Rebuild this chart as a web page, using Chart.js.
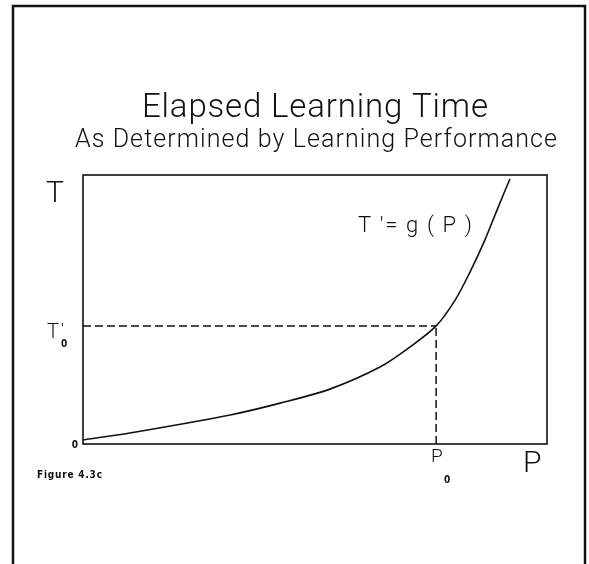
<!DOCTYPE html>
<html>
<head>
<meta charset="utf-8">
<script src="https://cdn.jsdelivr.net/npm/chart.js@4.4.0/dist/chart.umd.min.js"></script>
<style>
  html, body { margin: 0; padding: 0; background: #fff; }
  #wrap { width: 589px; height: 564px; position: relative; }
</style>
</head>
<body>
<div id="wrap"><canvas id="c" width="589" height="564"></canvas></div>
<script>
// ---- data (axis units 0..100) ----
const performance = [0, 10.1, 31.7, 42.5, 53.2, 64.0, 70.5, 76.1, 80.2, 83.4, 86.6, 89.4, 92.0];
const elapsedTime = [1.5, 4.1, 10.8, 15.2, 20.4, 28.6, 36.1, 43.9, 53.5, 63.9, 75.8, 87.7, 98.5];
const P0 = 76.1;
const T0 = 43.9;
const titleText = "Elapsed Learning Time";
const subtitleText = "As Determined by Learning Performance";
const curveLabel = "T '= g ( P )";
const figureLabel = "Figure 4.3c";

const curvePts = performance.map((p, i) => ({ x: p, y: elapsedTime[i] }));
const hDash = [{ x: 0, y: T0 }, { x: P0, y: T0 }];
const vDash = [{ x: P0, y: 0 }, { x: P0, y: T0 }];

function fitText(ctx, text, x, y, width, font) {
  ctx.font = font;
  ctx.letterSpacing = '0px';
  const w = ctx.measureText(text).width;
  const n = text.length;
  const ls = n > 1 ? (width - w) / (n - 1) : 0;
  ctx.letterSpacing = ls + 'px';
  ctx.fillText(text, x, y);
  ctx.letterSpacing = '0px';
}

const decor = {
  id: 'decor',
  afterDraw(chart) {
    const ctx = chart.ctx;
    const a = chart.chartArea;
    const xs = chart.scales.x, ys = chart.scales.y;
    ctx.save();
    // outer frame
    ctx.strokeStyle = '#111';
    ctx.lineWidth = 2.5;
    ctx.beginPath();
    ctx.moveTo(13, 580); ctx.lineTo(13, 6); ctx.lineTo(585, 6); ctx.lineTo(585, 580);
    ctx.stroke();
    // plot frame
    ctx.lineWidth = 1.6;
    ctx.strokeRect(a.left, a.top, a.right - a.left, a.bottom - a.top);

    ctx.fillStyle = '#111';
    ctx.textAlign = 'left';
    ctx.textBaseline = 'alphabetic';
    const thin = "300 {s}px Roboto, 'DejaVu Sans', sans-serif";
    const f = s => thin.replace('{s}', s);
    const small = "bold 10px 'DejaVu Sans Condensed', 'DejaVu Sans', sans-serif";
    // titles
    fitText(ctx, titleText, 142, 117, 346, f(33));
    fitText(ctx, subtitleText, 75, 147, 482, f(25));
    // axis letters
    ctx.font = f(30);
    ctx.fillText('T', 46, 202);
    ctx.fillText('P', 523, 472);
    // curve label
    fitText(ctx, curveLabel, 358, 232, 114, f(22));
    // T'0 label
    const ty = ys.getPixelForValue(T0);
    ctx.font = f(20);
    ctx.fillText('T', 47, ty + 12);
    ctx.font = small;
    ctx.fillText("'", 61, ty + 5);
    ctx.fillText('0', 61, ty + 21);
    // P0 label
    const px = xs.getPixelForValue(P0);
    ctx.font = f(19);
    ctx.fillText('P', px - 5, a.bottom + 18);
    ctx.font = small;
    ctx.fillText('0', px + 8, a.bottom + 39);
    // zero
    ctx.font = small;
    ctx.textAlign = 'right';
    ctx.fillText('0', a.left - 5, ys.getPixelForValue(0) + 4);
    ctx.textAlign = 'left';
    // figure caption
    fitText(ctx, figureLabel, 37, 478, 65, small);
    ctx.restore();
  }
};

new Chart(document.getElementById('c'), {
  type: 'scatter',
  data: {
    datasets: [
      { data: curvePts, showLine: true, borderColor: '#111', borderWidth: 1.6, pointRadius: 0,
        tension: 0.3, fill: false },
      { data: hDash, showLine: true, borderColor: '#111', borderWidth: 1.5, pointRadius: 0,
        borderDash: [8, 4] },
      { data: vDash, showLine: true, borderColor: '#111', borderWidth: 1.5, pointRadius: 0,
        borderDash: [8, 4] }
    ]
  },
  options: {
    responsive: false,
    animation: false,
    events: [],
    clip: false,
    layout: { padding: { left: 83, top: 175, right: 42, bottom: 120 } },
    plugins: { legend: { display: false }, tooltip: { enabled: false }, title: { display: false } },
    scales: {
      x: { type: 'linear', min: 0, max: 100, display: false },
      y: { type: 'linear', min: 0, max: 100, display: false }
    }
  },
  plugins: [decor]
});
</script>
</body>
</html>
